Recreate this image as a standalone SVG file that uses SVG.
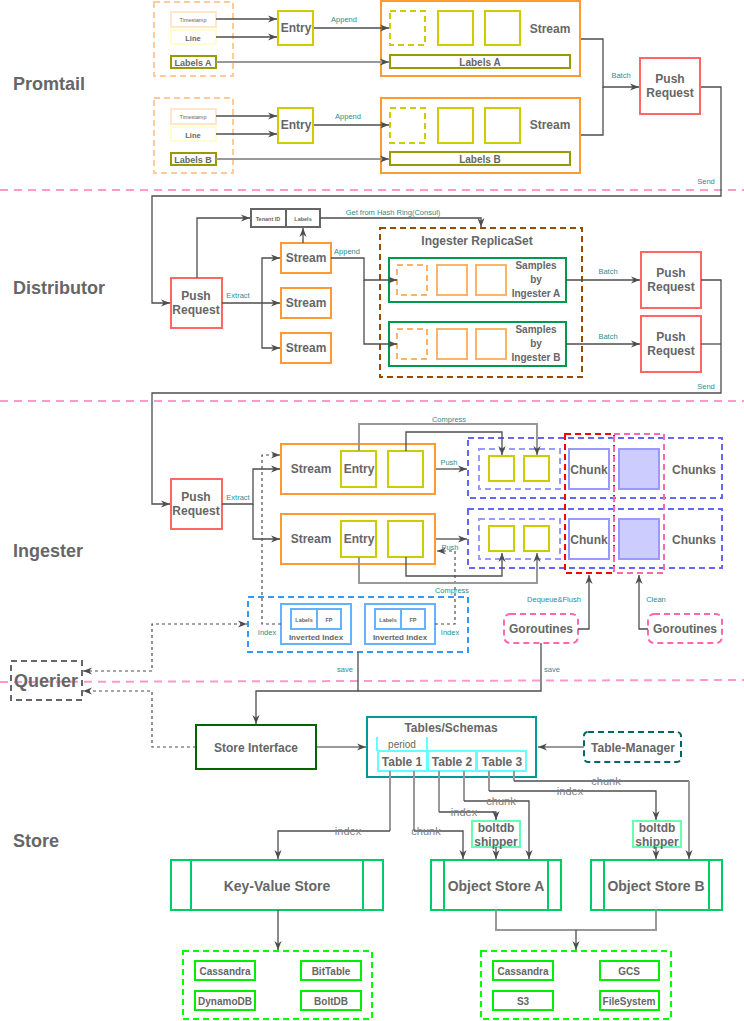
<svg xmlns="http://www.w3.org/2000/svg" width="744" height="1021" viewBox="0 0 744 1021">
<style>
text{font-family:"Liberation Sans",Arial,Helvetica,sans-serif;dominant-baseline:central;text-anchor:middle}
.t{fill:#666;font-weight:bold;font-size:12px}
.t10{font-size:10px}
.t14{font-size:14px}
.t18{font-size:18px}
.sec{fill:#666;font-weight:bold;font-size:18px;text-anchor:start}
.lbl{fill:#2E8E8E;font-size:7.5px}
.gl{fill:#808080;font-size:11px}
.n{fill:#fff;stroke-width:2}
.e{fill:none;stroke:#4D4D4D;stroke-width:1.3}
.eg{fill:none;stroke:#999;stroke-width:2}
.ed{fill:none;stroke:#4D4D4D;stroke-width:1.2;stroke-dasharray:3 3}
.ds{stroke-dasharray:6 4}
.sep{fill:none;stroke:#FF99CC;stroke-width:2;stroke-dasharray:8 6}
.stream{fill:#fff;stroke:#FF9933;stroke-width:2}
.pr{fill:#fff;stroke:#FF6666;stroke-width:2}
.yel{fill:#fff;stroke:#CCCC00;stroke-width:2}
.olive{fill:#fff;stroke:#999900;stroke-width:2}
.chunk{fill:#fff;stroke:#9999FF;stroke-width:2}
.store{fill:#fff;stroke:#00CC66;stroke-width:2}
.db{fill:#fff;stroke:#00EE00;stroke-width:2}
.dbt{fill:#666;font-weight:bold;font-size:10px}
</style>
<defs>
<marker id="a" viewBox="0 0 10 10" refX="10" refY="5" markerWidth="9" markerHeight="9" markerUnits="userSpaceOnUse" orient="auto-start-reverse"><path d="M0,1 L10,5 L0,9 L3,5 z" fill="#4D4D4D"/></marker>
</defs>
<rect width="744" height="1021" fill="#fff"/>

<g id="separators">
<path class="sep" d="M0,190 H744"/>
<path class="sep" d="M0,401 H744"/>
<path class="sep" d="M0,682 L744,680"/>
</g>
<g id="section-labels">
<text class="sec" x="13" y="84">Promtail</text>
<text class="sec" x="13" y="288">Distributor</text>
<text class="sec" x="13" y="551">Ingester</text>
<text class="sec" x="13" y="841">Store</text>
</g>

<!-- Promtail A -->
<g id="promtail-input-a">
<rect x="154" y="2" width="79" height="74" fill="none" stroke="#FFCC99" stroke-width="2" class="ds"/>
<rect class="n" x="171" y="12" width="45" height="15" stroke="#FFE6CC"/>
<text x="193" y="20" fill="#666" font-size="5.5">Timestamp</text>
<rect class="n" x="171" y="30" width="45" height="14" stroke="#FFFFCC"/>
<text x="193" y="38" fill="#666" font-size="7.5" font-weight="bold">Line</text>
<rect class="olive" x="171" y="56" width="45" height="12"/>
<text x="193" y="63" fill="#666" font-size="9" font-weight="bold">Labels A</text>
</g>
<g id="entry-a"><rect class="yel" x="278" y="11" width="35" height="34"/><text class="t" x="296" y="28">Entry</text></g>
<g id="stream-a">
<rect class="stream" x="381" y="1" width="199" height="75"/>
<rect class="yel ds" x="390" y="11" width="35" height="34"/>
<rect class="yel" x="438" y="11" width="35" height="34"/>
<rect class="yel" x="485" y="11" width="35" height="34"/>
<text class="t" x="550" y="29">Stream</text>
<rect class="olive" x="390" y="55" width="180" height="13"/>
<text class="t t10" x="480" y="62">Labels A</text>
</g>
<!-- Promtail B -->
<g id="promtail-input-b">
<rect x="154" y="98" width="79" height="75" fill="none" stroke="#FFCC99" stroke-width="2" class="ds"/>
<rect class="n" x="171" y="109" width="45" height="15" stroke="#FFE6CC"/>
<text x="193" y="117" fill="#666" font-size="5.5">Timestamp</text>
<rect class="n" x="171" y="127" width="45" height="14" stroke="#FFFFCC"/>
<text x="193" y="135" fill="#666" font-size="7.5" font-weight="bold">Line</text>
<rect class="olive" x="171" y="153" width="45" height="12"/>
<text x="193" y="160" fill="#666" font-size="9" font-weight="bold">Labels B</text>
</g>
<g id="entry-b"><rect class="yel" x="278" y="108" width="35" height="35"/><text class="t" x="296" y="125">Entry</text></g>
<g id="stream-b">
<rect class="stream" x="381" y="98" width="199" height="75"/>
<rect class="yel ds" x="390" y="108" width="35" height="35"/>
<rect class="yel" x="438" y="108" width="35" height="35"/>
<rect class="yel" x="485" y="108" width="35" height="35"/>
<text class="t" x="550" y="125">Stream</text>
<rect class="olive" x="390" y="152" width="180" height="13"/>
<text class="t t10" x="480" y="159">Labels B</text>
</g>
<g id="promtail-push"><rect class="pr" x="640" y="58" width="60" height="56"/><text class="t" x="670" y="79">Push</text><text class="t" x="670" y="93">Request</text></g>

<!-- Distributor -->
<g id="dist-push"><rect class="pr" x="171" y="278" width="51" height="50"/><text class="t" x="196" y="296">Push</text><text class="t" x="196" y="310">Request</text></g>
<g id="tenant-labels">
<rect x="251" y="209" width="69" height="18" fill="#fff" stroke="#666" stroke-width="2"/>
<path d="M286,209 V227" stroke="#666" stroke-width="2"/>
<text x="268" y="219" fill="#666" font-size="5.5" font-weight="bold">Tenant ID</text>
<text x="303" y="219" fill="#666" font-size="5.5" font-weight="bold">Labels</text>
</g>
<g id="dist-stream-1"><rect class="stream" x="281" y="243" width="50" height="30"/><text class="t" x="306" y="258">Stream</text></g>
<g id="dist-stream-2"><rect class="stream" x="281" y="288" width="50" height="30"/><text class="t" x="306" y="303">Stream</text></g>
<g id="dist-stream-3"><rect class="stream" x="281" y="333" width="50" height="30"/><text class="t" x="306" y="348">Stream</text></g>
<g id="replicaset">
<rect x="380" y="228" width="202" height="149" fill="none" stroke="#994C00" stroke-width="2" class="ds"/>
<text class="t" x="477" y="241">Ingester ReplicaSet</text>
</g>
<g id="samples-a">
<rect x="389" y="258" width="177" height="44" fill="#fff" stroke="#00994D" stroke-width="2"/>
<rect x="397" y="265" width="30" height="30" fill="none" stroke="#FFB366" stroke-width="2" class="ds"/>
<rect x="437" y="265" width="30" height="30" fill="none" stroke="#FFB366" stroke-width="2"/>
<rect x="476" y="265" width="30" height="30" fill="none" stroke="#FFB366" stroke-width="2"/>
<text class="t t10" x="536" y="265">Samples</text>
<text class="t t10" x="536" y="279">by</text>
<text class="t t10" x="536" y="293">Ingester A</text>
</g>
<g id="samples-b">
<rect x="389" y="322" width="177" height="44" fill="#fff" stroke="#00994D" stroke-width="2"/>
<rect x="397" y="329" width="30" height="30" fill="none" stroke="#FFB366" stroke-width="2" class="ds"/>
<rect x="437" y="329" width="30" height="30" fill="none" stroke="#FFB366" stroke-width="2"/>
<rect x="476" y="329" width="30" height="30" fill="none" stroke="#FFB366" stroke-width="2"/>
<text class="t t10" x="536" y="329">Samples</text>
<text class="t t10" x="536" y="343">by</text>
<text class="t t10" x="536" y="357">Ingester B</text>
</g>
<g id="dist-push-a"><rect class="pr" x="641" y="252" width="60" height="56"/><text class="t" x="671" y="273">Push</text><text class="t" x="671" y="287">Request</text></g>
<g id="dist-push-b"><rect class="pr" x="641" y="316" width="60" height="56"/><text class="t" x="671" y="337">Push</text><text class="t" x="671" y="351">Request</text></g>

<!-- Ingester -->
<g id="ing-push"><rect class="pr" x="171" y="479" width="51" height="50"/><text class="t" x="196" y="497">Push</text><text class="t" x="196" y="511">Request</text></g>
<g id="ing-stream-1">
<rect class="stream" x="281" y="444" width="154" height="50"/>
<text class="t" x="311" y="469">Stream</text>
<rect class="yel" x="341" y="451" width="35" height="36"/><text class="t" x="359" y="469">Entry</text>
<rect class="yel" x="388" y="451" width="35" height="36"/>
</g>
<g id="ing-stream-2">
<rect class="stream" x="281" y="514" width="154" height="50"/>
<text class="t" x="311" y="539">Stream</text>
<rect class="yel" x="341" y="521" width="35" height="36"/><text class="t" x="359" y="539">Entry</text>
<rect class="yel" x="388" y="521" width="35" height="36"/>
</g>
<g id="chunks-1">
<rect x="468" y="438" width="254" height="60" fill="none" stroke="#6666FF" stroke-width="2" class="ds"/>
<rect x="479" y="449" width="81" height="40" fill="none" stroke="#9999FF" stroke-width="2" class="ds"/>
<rect class="yel" x="489" y="456" width="25" height="25"/>
<rect class="yel" x="524" y="456" width="25" height="25"/>
<rect class="chunk" x="569" y="449" width="40" height="40"/><text class="t" x="589" y="470">Chunk</text>
<rect x="619" y="449" width="40" height="40" fill="#CCCCFF" stroke="#9999FF" stroke-width="2"/>
<text class="t" x="694" y="470">Chunks</text>
</g>
<g id="chunks-2">
<rect x="468" y="509" width="254" height="59" fill="none" stroke="#6666FF" stroke-width="2" class="ds"/>
<rect x="479" y="519" width="81" height="40" fill="none" stroke="#9999FF" stroke-width="2" class="ds"/>
<rect class="yel" x="489" y="526" width="25" height="25"/>
<rect class="yel" x="524" y="526" width="25" height="25"/>
<rect class="chunk" x="569" y="519" width="40" height="40"/><text class="t" x="589" y="540">Chunk</text>
<rect x="619" y="519" width="40" height="40" fill="#CCCCFF" stroke="#9999FF" stroke-width="2"/>
<text class="t" x="694" y="540">Chunks</text>
</g>
<g id="flush-zone"><rect x="565" y="434" width="49" height="139" fill="none" stroke="#FF0000" stroke-width="2" class="ds"/></g>
<g id="clean-zone"><rect x="614" y="434" width="50" height="139" fill="none" stroke="#FF66B3" stroke-width="2" class="ds"/></g>
<g id="goroutines-a"><rect x="504" y="614" width="74" height="29" rx="6" fill="#fff" stroke="#FF66B3" stroke-width="2" class="ds"/><text class="t" x="541" y="629">Goroutines</text></g>
<g id="goroutines-b"><rect x="648" y="614" width="74" height="29" rx="6" fill="#fff" stroke="#FF66B3" stroke-width="2" class="ds"/><text class="t" x="685" y="629">Goroutines</text></g>
<g id="inverted-index">
<rect x="248" y="597" width="220" height="55" fill="none" stroke="#3399FF" stroke-width="2" class="ds"/>
<rect x="281" y="604" width="70" height="40" fill="#fff" stroke="#66B2FF" stroke-width="2"/>
<rect x="291" y="609" width="50" height="20" fill="#fff" stroke="#66B2FF" stroke-width="2"/>
<path d="M317,609 V629" stroke="#66B2FF" stroke-width="2"/>
<text x="304" y="620" fill="#666" font-size="5.5" font-weight="bold">Labels</text>
<text x="329" y="620" fill="#666" font-size="5.5" font-weight="bold">FP</text>
<text x="316" y="637" fill="#666" font-size="8" font-weight="bold">Inverted Index</text>
<rect x="365" y="604" width="70" height="40" fill="#fff" stroke="#66B2FF" stroke-width="2"/>
<rect x="375" y="609" width="50" height="20" fill="#fff" stroke="#66B2FF" stroke-width="2"/>
<path d="M401,609 V629" stroke="#66B2FF" stroke-width="2"/>
<text x="388" y="620" fill="#666" font-size="5.5" font-weight="bold">Labels</text>
<text x="413" y="620" fill="#666" font-size="5.5" font-weight="bold">FP</text>
<text x="400" y="637" fill="#666" font-size="8" font-weight="bold">Inverted Index</text>
</g>
<g id="querier"><rect x="11" y="661" width="71" height="39" fill="none" stroke="#666" stroke-width="2" class="ds"/><text class="t t18" x="46" y="681">Querier</text></g>

<!-- Store -->
<g id="store-interface"><rect x="196" y="725" width="120" height="44" fill="#fff" stroke="#006600" stroke-width="2"/><text class="t" x="256" y="748">Store Interface</text></g>
<g id="tables">
<rect x="367" y="717" width="169" height="60" fill="#fff" stroke="#009999" stroke-width="2"/>
<text class="t" x="451" y="728">Tables/Schemas</text>
<path d="M377,737 V751 M427,737 V751" stroke="#66FFFF" stroke-width="2"/>
<text x="402" y="744" fill="#666" font-size="10">period</text>
<rect x="378" y="751" width="49" height="20" fill="#fff" stroke="#66FFFF" stroke-width="2"/><text class="t" x="402" y="762">Table 1</text>
<rect x="428" y="751" width="48" height="20" fill="#fff" stroke="#66FFFF" stroke-width="2"/><text class="t" x="452" y="762">Table 2</text>
<rect x="477" y="751" width="49" height="20" fill="#fff" stroke="#66FFFF" stroke-width="2"/><text class="t" x="502" y="762">Table 3</text>
</g>
<g id="table-manager"><rect x="584" y="732" width="97" height="30" rx="4" fill="#fff" stroke="#006666" stroke-width="2" class="ds"/><text class="t" x="633" y="748">Table-Manager</text></g>
<g id="boltdb-a"><rect x="472" y="821" width="48" height="26" fill="#fff" stroke="#66FFB2" stroke-width="2"/><text class="t" x="496" y="828">boltdb</text><text class="t" x="496" y="842">shipper</text></g>
<g id="boltdb-b"><rect x="633" y="821" width="48" height="26" fill="#fff" stroke="#66FFB2" stroke-width="2"/><text class="t" x="657" y="828">boltdb</text><text class="t" x="657" y="842">shipper</text></g>
<g id="kv-store"><rect class="store" x="171" y="860" width="212" height="50"/><path d="M191,860 V910 M363,860 V910" stroke="#00CC66" stroke-width="2"/><text class="t t14" x="277" y="886">Key-Value Store</text></g>
<g id="object-store-a"><rect class="store" x="431" y="860" width="130" height="50"/><path d="M444,860 V910 M548,860 V910" stroke="#00CC66" stroke-width="2"/><text class="t t14" x="496" y="886">Object Store A</text></g>
<g id="object-store-b"><rect class="store" x="591" y="860" width="131" height="50"/><path d="M604,860 V910 M709,860 V910" stroke="#00CC66" stroke-width="2"/><text class="t t14" x="656" y="886">Object Store B</text></g>
<g id="kv-backends">
<rect x="183" y="951" width="189" height="68" fill="none" stroke="#00FF00" stroke-width="2" class="ds"/>
<rect class="db" x="195" y="961" width="60" height="19"/><text class="dbt" x="225" y="971">Cassandra</text>
<rect class="db" x="301" y="961" width="60" height="19"/><text class="dbt" x="331" y="971">BitTable</text>
<rect class="db" x="195" y="991" width="60" height="19"/><text class="dbt" x="225" y="1001">DynamoDB</text>
<rect class="db" x="301" y="991" width="60" height="19"/><text class="dbt" x="331" y="1001">BoltDB</text>
</g>
<g id="object-backends">
<rect x="481" y="951" width="190" height="68" fill="none" stroke="#00FF00" stroke-width="2" class="ds"/>
<rect class="db" x="493" y="961" width="60" height="19"/><text class="dbt" x="523" y="971">Cassandra</text>
<rect class="db" x="600" y="961" width="59" height="19"/><text class="dbt" x="629" y="971">GCS</text>
<rect class="db" x="493" y="991" width="60" height="19"/><text class="dbt" x="523" y="1001">S3</text>
<rect class="db" x="600" y="991" width="59" height="19"/><text class="dbt" x="629" y="1001">FileSystem</text>
</g>

<g id="connectors">
<!-- promtail -->
<path class="e" d="M216,19 H277" marker-end="url(#a)"/>
<path class="e" d="M216,37 H277" marker-end="url(#a)"/>
<path class="eg" d="M216,62 H389" marker-end="url(#a)"/>
<path class="e" d="M314,28 H389" marker-end="url(#a)"/>
<path class="e" d="M216,116 H277" marker-end="url(#a)"/>
<path class="e" d="M216,134 H277" marker-end="url(#a)"/>
<path class="eg" d="M216,159 H389" marker-end="url(#a)"/>
<path class="e" d="M314,125 H389" marker-end="url(#a)"/>
<text class="lbl" x="344" y="19">Append</text>
<text class="lbl" x="348" y="116">Append</text>
<path class="e" d="M581,39 H603 V87 H639" marker-end="url(#a)"/>
<path class="e" d="M581,135 H603 V87"/>
<text class="lbl" x="621" y="75">Batch</text>
<path class="e" d="M701,87 H721 V196 H152 V303 H170" marker-end="url(#a)"/>
<text class="lbl" x="706" y="181">Send</text>
<!-- distributor -->
<path class="e" d="M197,278 V218 H250" marker-end="url(#a)"/>
<path class="e" d="M320,218 H481 V227" marker-end="url(#a)"/>
<text class="lbl" x="393" y="212">Get from Hash Ring(Consul)</text>
<path class="e" d="M303,243 V228" marker-end="url(#a)"/>
<path class="e" d="M222,303 H280" marker-end="url(#a)"/>
<path class="e" d="M262,303 V258 H280" marker-end="url(#a)"/>
<path class="e" d="M262,303 V348 H280" marker-end="url(#a)"/>
<text class="lbl" x="238" y="295">Extract</text>
<path class="e" d="M331,258 H364 V280 H397" marker-end="url(#a)"/>
<path class="e" d="M364,280 V344 H397" marker-end="url(#a)"/>
<text class="lbl" x="347" y="251">Append</text>
<path class="e" d="M566,280 H640" marker-end="url(#a)"/>
<text class="lbl" x="608" y="271">Batch</text>
<path class="e" d="M566,344 H640" marker-end="url(#a)"/>
<text class="lbl" x="608" y="336">Batch</text>
<path class="e" d="M701,280 H721 V393 H152 V504 H170" marker-end="url(#a)"/>
<path class="e" d="M701,344 H721"/>
<text class="lbl" x="706" y="386">Send</text>
<!-- ingester -->
<path class="e" d="M222,504 H253 V469 H280" marker-end="url(#a)"/>
<path class="e" d="M253,504 V539 H280" marker-end="url(#a)"/>
<text class="lbl" x="238" y="497">Extract</text>
<path class="ed" d="M281,624 H262 V455 H280" marker-end="url(#a)"/>
<path class="ed" d="M435,624 H455 V551 H437" marker-end="url(#a)"/>
<text class="lbl" x="267" y="632">Index</text>
<text class="lbl" x="450" y="632">Index</text>
<path class="e" d="M436,469 H467" marker-end="url(#a)"/>
<text class="lbl" x="449" y="462">Push</text>
<path class="e" d="M436,539 H467" marker-end="url(#a)"/>
<text class="lbl" x="450" y="547">Push</text>
<path class="eg" d="M359,451 V424 H537 V455" marker-end="url(#a)"/>
<path class="e" d="M406,451 V432 H502 V455" marker-end="url(#a)"/>
<text class="lbl" x="449" y="419">Compress</text>
<path class="eg" d="M359,557 V583 H537 V553" marker-end="url(#a)"/>
<path class="e" d="M406,557 V576 H502 V553" marker-end="url(#a)"/>
<text class="lbl" x="452" y="590">Compress</text>
<path class="e" d="M578,629 H589 V575" marker-end="url(#a)"/>
<text class="lbl" x="554" y="599">Dequeue&amp;Flush</text>
<path class="e" d="M648,629 H639 V575" marker-end="url(#a)"/>
<text class="lbl" x="656" y="599">Clean</text>
<path class="e" d="M358,652 V691 H256 V724" marker-end="url(#a)"/>
<path class="e" d="M541,643 V691 H358"/>
<text class="lbl" x="345" y="669">save</text>
<text class="lbl" x="552" y="669">save</text>
<path class="ed" d="M83,671 H152 V624 H247" marker-start="url(#a)" marker-end="url(#a)"/>
<path class="ed" d="M196,747 H152 V691 H83" marker-end="url(#a)"/>
<!-- store -->
<path class="eg" d="M317,747 H366" marker-end="url(#a)"/>
<path class="eg" d="M584,747 H538" marker-end="url(#a)"/>
<path class="eg" d="M390,771 V831"/><path class="e" d="M390,831 H278 V859" marker-end="url(#a)"/>
<path class="eg" d="M414,771 V831"/><path class="e" d="M414,831 H463 V859" marker-end="url(#a)"/>
<path class="eg" d="M439,771 V812"/><path class="e" d="M439,812 H496 V820" marker-end="url(#a)"/>
<path class="eg" d="M464,771 V801"/><path class="e" d="M464,801 H529 V859" marker-end="url(#a)"/>
<path class="eg" d="M489,771 V791"/><path class="e" d="M489,791 H656 V820" marker-end="url(#a)"/>
<path class="eg" d="M514,771 V781"/><path class="e" d="M514,781 H689"/><path class="eg" d="M689,781 V859" marker-end="url(#a)"/>
<text class="gl" x="348" y="831">index</text>
<text class="gl" x="426" y="831">chunk</text>
<text class="gl" x="464" y="812">index</text>
<text class="gl" x="501" y="801">chunk</text>
<text class="gl" x="570" y="791">index</text>
<text class="gl" x="606" y="781">chunk</text>
<path class="e" d="M496,847 V859" marker-end="url(#a)"/>
<path class="e" d="M656,847 V859" marker-end="url(#a)"/>
<path class="e" d="M278,910 V950" marker-end="url(#a)"/>
<path class="eg" d="M496,910 V930 H656 V910"/>
<path class="e" d="M576,930 V950" marker-end="url(#a)"/>
</g>
</svg>
